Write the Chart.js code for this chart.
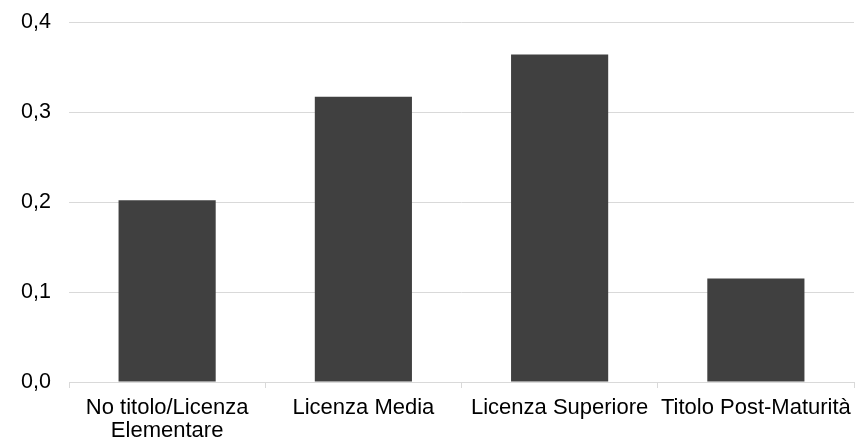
<!DOCTYPE html>
<html>
<head>
<meta charset="utf-8">
<script src="https://cdn.jsdelivr.net/npm/chart.js@4"></script>
<style>
  html, body { margin: 0; padding: 0; background: #fff; }
  #wrap { width: 858px; height: 444px; }
</style>
</head>
<body>
<div id="wrap"><canvas id="myBar"></canvas></div>
<script>
var categorie = [['No titolo/Licenza', 'Elementare'], 'Licenza Media', 'Licenza Superiore', 'Titolo Post-Maturità'];
var valori = [0.202, 0.317, 0.364, 0.115];
var tickY = [0, 0.1, 0.2, 0.3, 0.4];

Chart.defaults.font.family = '"Liberation Sans", Arial, sans-serif';
Chart.defaults.font.size = 21.5;
Chart.defaults.color = '#000';

var ctb = document.getElementById('myBar');
var myBar = new Chart(ctb, {
    type: 'bar',
    data: {
        labels: categorie,
        datasets: [{
            data: valori,
            backgroundColor: '#404040',
            borderWidth: 0,
            categoryPercentage: 1,
            barPercentage: 0.495
        }]
    },
    options: {
        responsive: true,
        maintainAspectRatio: false,
        animation: false,
        layout: { padding: { top: 22, right: 4, left: 0, bottom: 0 } },
        plugins: {
            legend: { display: false },
            tooltip: { enabled: false }
        },
        scales: {
            x: {
                grid: {
                    offset: true,
                    drawOnChartArea: false,
                    drawTicks: true,
                    tickLength: 6,
                    color: '#d9d9d9'
                },
                border: { color: '#d9d9d9', width: 1 },
                ticks: { padding: 9, maxRotation: 0, autoSkip: false, font: { size: 22, lineHeight: 1.03 } },
                afterFit: function (scale) {
                    scale.height = 62;
                    scale.paddingLeft = 0;
                    scale.paddingRight = 0;
                }
            },
            y: {
                min: 0,
                max: 0.4,
                afterBuildTicks: function (scale) {
                    scale.ticks = tickY.map(function (v) { return { value: v }; });
                },
                grid: { color: '#d9d9d9', drawTicks: false },
                border: { display: false },
                ticks: {
                    padding: 18,
                    callback: function (v) { return v.toFixed(1).replace('.', ','); }
                },
                afterFit: function (scale) {
                    scale.width = 69;
                    scale.paddingTop = 0;
                    scale.paddingBottom = 0;
                }
            }
        }
    }
});
</script>
</body>
</html>
